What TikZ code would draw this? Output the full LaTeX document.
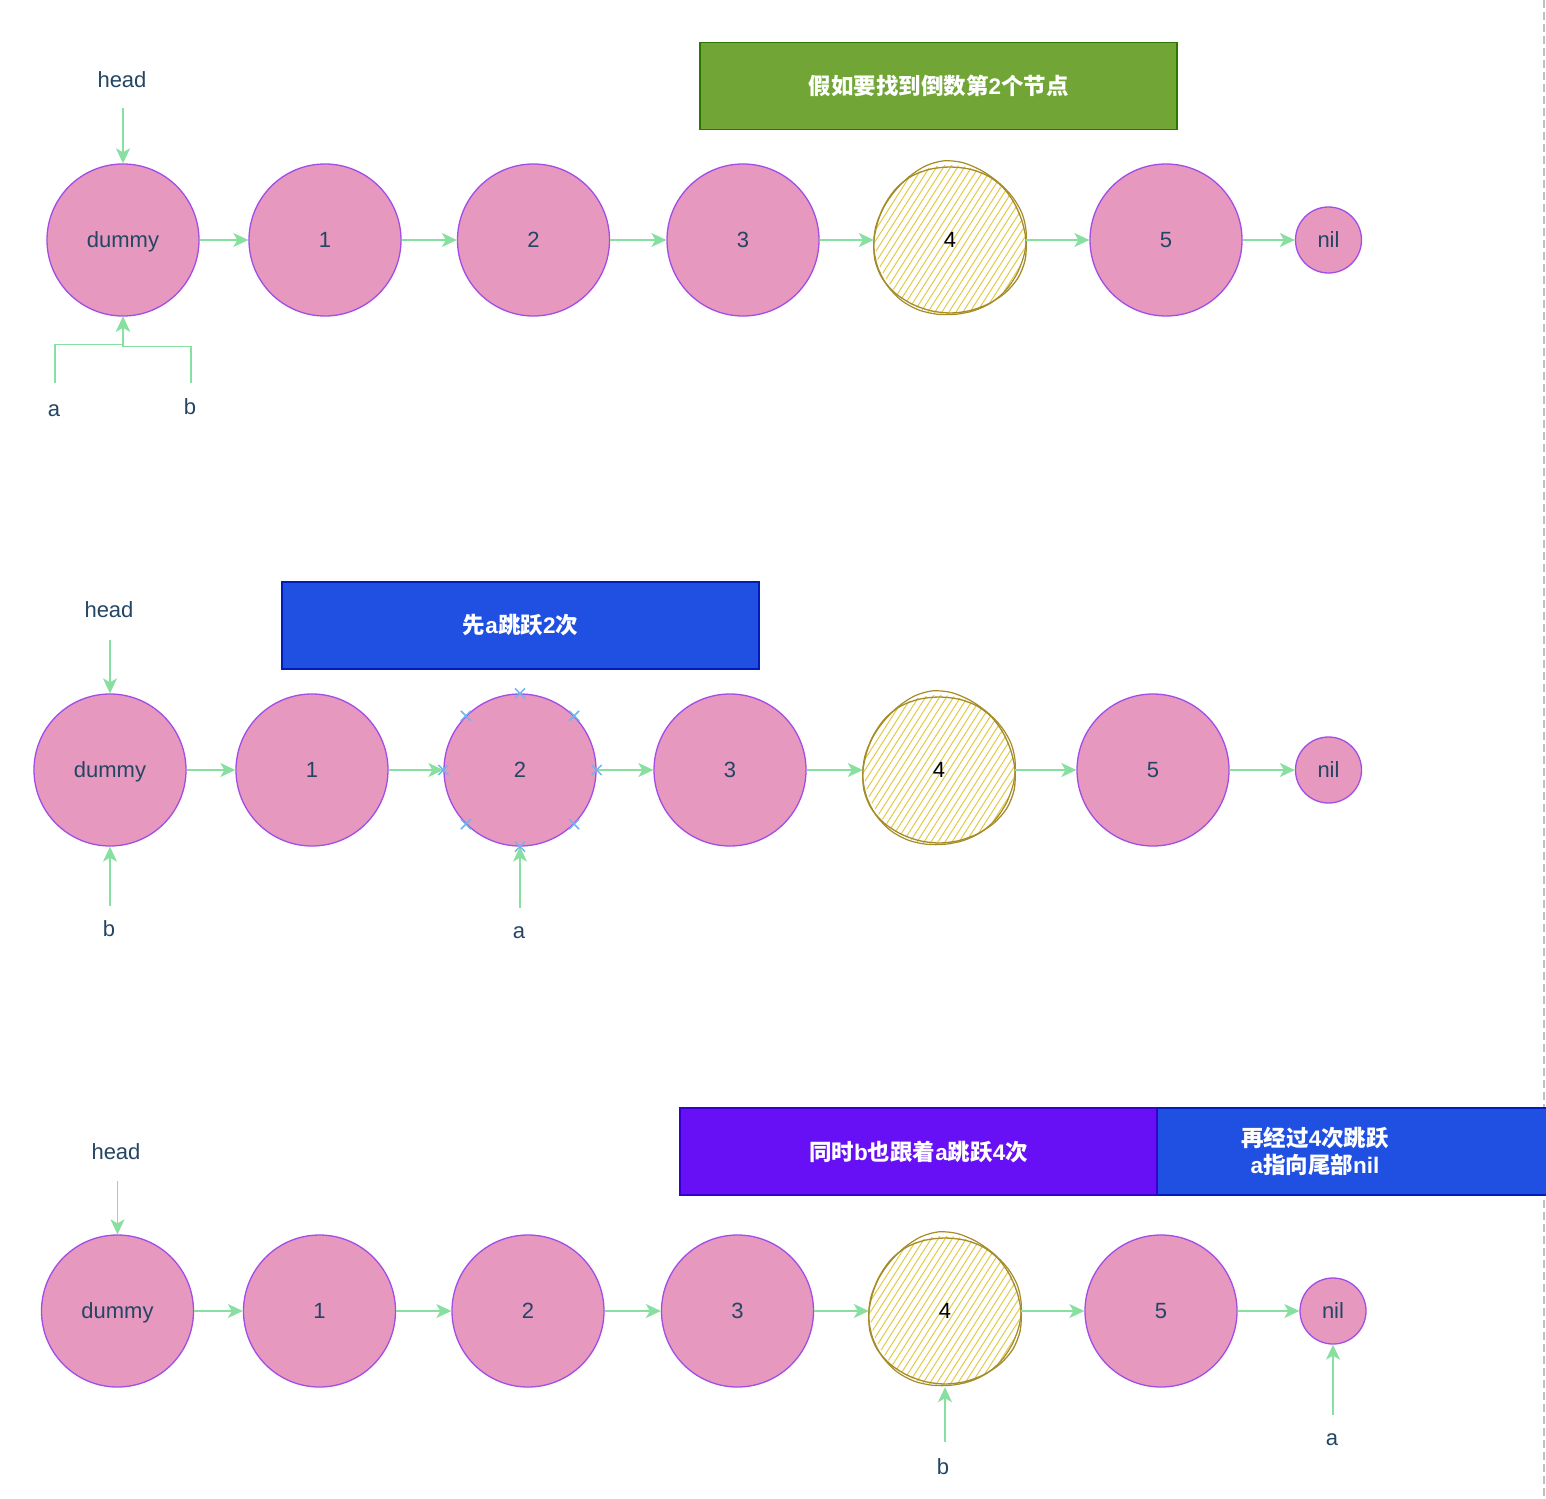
\documentclass[tikz,border=0pt]{standalone}
\usepackage{fontspec}
\setmainfont{Liberation Sans}
\newfontfamily\cjk{Noto Sans CJK SC}
\newfontfamily\latf{Liberation Sans}
\newcommand\lt[1]{{\latf #1}}
\usetikzlibrary{arrows.meta}
\pgfdeclarelayer{bg}
\pgfsetlayers{bg,main}
\definecolor{nodefill}{RGB}{230,152,191}
\definecolor{nodedraw}{RGB}{163,76,230}
\definecolor{txt}{RGB}{35,70,100}
\definecolor{arr}{RGB}{136,224,160}
\definecolor{hatchc}{RGB}{226,202,75}
\definecolor{hatchdraw}{RGB}{165,140,40}
\definecolor{greenfill}{RGB}{113,166,54}
\definecolor{greendraw}{RGB}{45,118,0}
\definecolor{bluefill}{RGB}{32,80,226}
\definecolor{bluedraw}{RGB}{0,29,188}
\definecolor{violetfill}{RGB}{103,15,245}
\definecolor{violetdraw}{RGB}{55,0,204}
\definecolor{xmarkc}{RGB}{110,180,240}
\newcommand\roughhatch[1]{%
  \begin{pgfonlayer}{bg}
  \begin{scope}[shift={(#1.center)}]
    \begin{scope}
      \clip (0,0) circle (75);
      \foreach \i in {-200,-193,...,200}
        \draw[hatchc,line width=1pt] (\i-55,86) -- (\i+55,-86);
    \end{scope}
    \draw[hatchdraw,line width=1.3pt] plot[smooth cycle,domain=0:345,samples=24]
      ({(76+2.5*sin(3*\x))*cos(\x)},{(75+2*cos(2*\x))*sin(\x)});
    \draw[hatchdraw,line width=1.2pt] plot[smooth cycle,domain=10:355,samples=24]
      ({(74+3*cos(2*\x+40))*cos(\x)},{(77+2.5*sin(3*\x+20))*sin(\x)});
  \end{scope}
  \end{pgfonlayer}}
\tikzset{
  ln/.style={circle,fill=nodefill,draw=nodedraw,line width=1.3pt,minimum size=152pt,inner sep=0pt,text=txt,text depth=0pt,font=\fontsize{22}{26}\selectfont},
  nilnode/.style={ln,minimum size=66pt},
  hn/.style={circle,minimum size=152pt,inner sep=0pt,text=black,text depth=0pt,font=\fontsize{22}{26}\selectfont},
  lbl/.style={text=txt,font=\fontsize{22}{26}\selectfont,inner sep=0pt},
  conn/.style={draw=arr,line width=1.5pt,-{Stealth[length=15pt,width=14pt,inset=4pt]}},
  box/.style={rectangle,line width=1.3pt,minimum width=477pt,minimum height=87pt,inner sep=0pt,text=white,align=center,font=\cjk\bfseries\fontsize{22.5}{27}\selectfont},
  xmk/.style={draw=xmarkc,line width=1.5pt}
}
\begin{document}
\begin{tikzpicture}[x=1pt,y=-1pt]
\begin{pgfonlayer}{bg}
\fill[white] (0,0) rectangle (1546,1498);
\end{pgfonlayer}
\useasboundingbox (0,0) rectangle (1546,1498);
\draw[gray!50,line width=1.5pt,dash pattern=on 8pt off 4pt] (1544,0) -- (1544,1498);

% ---------- Row 1 ----------
\node[box,fill=greenfill,draw=greendraw] (t1) at (938.5,86) {假如要找到倒数第\lt{2}个节点};
\node[ln] (d1) at (123,240) {dummy};
\node[ln] (r1a) at (325,240) {1};
\node[ln] (r1b) at (533.5,240) {2};
\node[ln] (r1c) at (743,240) {3};
\node[hn] (r1d) at (950,240) {4};
\node[ln] (r1e) at (1166,240) {5};
\node[nilnode] (r1n) at (1328.5,240) {nil};
\roughhatch{r1d}
\draw[conn] (d1) -- (r1a);
\draw[conn] (r1a) -- (r1b);
\draw[conn] (r1b) -- (r1c);
\draw[conn] (r1c) -- (r1d);
\draw[conn] (r1d) -- (r1e);
\draw[conn] (r1e) -- (r1n);
\node[lbl] (h1) at (122,80) {head};
\coordinate (h1s) at (123,108);
\draw[conn] (h1s) -- (d1.north);
\node[lbl] (a1) at (54,411) {a};
\node[lbl] (b1) at (190,407) {b};
\coordinate (a1s) at (55,383);
\coordinate (b1s) at (191,383);
\draw[conn] (b1s) |- ([yshift=-30pt]d1.south) -- (d1.south);
\draw[conn] (a1s) |- ([yshift=-28pt]d1.south) -- (d1.south);

% ---------- Row 2 ----------
\node[box,fill=bluefill,draw=bluedraw] (t2) at (520.5,625.5) {先\lt{a}跳跃\lt{2}次};
\node[ln] (d2) at (110,770) {dummy};
\node[ln] (r2a) at (312,770) {1};
\node[ln] (r2b) at (520,770) {2};
\node[ln] (r2c) at (730,770) {3};
\node[hn] (r2d) at (939,770) {4};
\node[ln] (r2e) at (1153,770) {5};
\node[nilnode] (r2n) at (1328.5,770) {nil};
\roughhatch{r2d}
\draw[conn] (d2) -- (r2a);
\draw[conn] (r2a) -- (r2b);
\draw[conn] (r2b) -- (r2c);
\draw[conn] (r2c) -- (r2d);
\draw[conn] (r2d) -- (r2e);
\draw[conn] (r2e) -- (r2n);
\node[lbl] (h2) at (109,610) {head};
\coordinate (h2s) at (110,640);
\draw[conn] (h2s) -- (d2.north);
\node[lbl] (b2) at (109,929) {b};
\coordinate (b2s) at (110,906);
\draw[conn] (b2s) -- (d2.south);
\node[lbl] (a2) at (519,933) {a};
\coordinate (a2s) at (520,908);
\draw[conn] (a2s) -- (r2b.south);
\foreach \a in {0,45,...,315}
  \draw[xmk,shift={(r2b.\a)}] (-5,-5) -- (5,5) (-5,5) -- (5,-5);

% ---------- Row 3 ----------
\node[box,fill=bluefill,draw=bluedraw] (t4) at (1315,1151.5) {再经过\lt{4}次跳跃\\\lt{a}指向尾部\lt{nil}};
\node[box,fill=violetfill,draw=violetdraw] (t3) at (918.5,1151.5) {同时\lt{b}也跟着\lt{a}跳跃\lt{4}次};
\node[ln] (d3) at (117.5,1311) {dummy};
\node[ln] (r3a) at (319.5,1311) {1};
\node[ln] (r3b) at (528,1311) {2};
\node[ln] (r3c) at (737.5,1311) {3};
\node[hn] (r3d) at (945,1311) {4};
\node[ln] (r3e) at (1161,1311) {5};
\node[nilnode] (r3n) at (1333,1311) {nil};
\roughhatch{r3d}
\draw[conn] (d3) -- (r3a);
\draw[conn] (r3a) -- (r3b);
\draw[conn] (r3b) -- (r3c);
\draw[conn] (r3c) -- (r3d);
\draw[conn] (r3d) -- (r3e);
\draw[conn] (r3e) -- (r3n);
\node[lbl] (h3) at (116,1152) {head};
\coordinate (h3s) at (117.5,1181);
\draw[conn] (h3s) -- (d3.north);
\node[lbl] (b3) at (943,1467) {b};
\coordinate (b3s) at (945,1442);
\draw[conn] (b3s) -- (r3d.south);
\node[lbl] (a3) at (1332,1440) {a};
\coordinate (a3s) at (1333,1415);
\draw[conn] (a3s) -- (r3n.south);
\end{tikzpicture}
\end{document}
